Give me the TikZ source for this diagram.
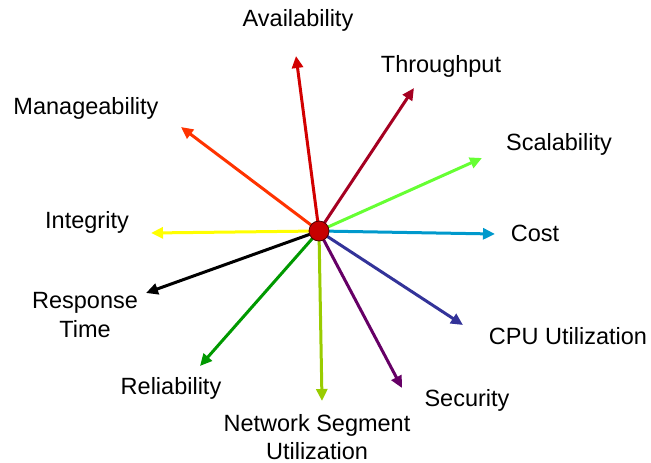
\documentclass[tikz,border=0pt]{standalone}
\usepackage{fontspec}
\setmainfont{Liberation Sans}
\usetikzlibrary{arrows.meta,positioning}
\definecolor{myred}{RGB}{210,0,0}
\definecolor{mycrimson}{RGB}{165,0,33}
\definecolor{mylime}{RGB}{102,255,51}
\definecolor{mycyan}{RGB}{0,153,204}
\definecolor{mynavy}{RGB}{51,51,153}
\definecolor{mypurple}{RGB}{102,0,102}
\definecolor{myolive}{RGB}{153,204,0}
\definecolor{mygreen}{RGB}{0,153,0}
\definecolor{myyellow}{RGB}{255,255,0}
\definecolor{myorange}{RGB}{255,51,0}

\begin{document}
\begin{tikzpicture}[x=1pt,y=-1pt,
  spoke/.style={line width=3pt,-{Triangle[length=12pt,width=11pt]}},
  lbl/.style={font=\fontsize{23.5}{28.5}\selectfont,align=center,inner sep=0pt},
  hub/.style={circle,draw=black!70!red,line width=0.8pt,fill=myred!95!black,minimum size=20pt,inner sep=0pt}]

  \useasboundingbox (0,0) rectangle (651,463);

  \coordinate (c) at (319,231);

  % tips of the arrows
  \coordinate (avail) at (296,56);
  \coordinate (thru) at (414,88);
  \coordinate (scal) at (482,158);
  \coordinate (cost) at (495,234);
  \coordinate (cpu) at (463,325);
  \coordinate (sec) at (402,388);
  \coordinate (net) at (322,401);
  \coordinate (rel) at (200,366);
  \coordinate (resp) at (146,293);
  \coordinate (integ) at (151,233);
  \coordinate (manage) at (181,127);

  \draw[spoke,myred] (c) -- (avail);
  \draw[spoke,mycrimson] (c) -- (thru);
  \draw[spoke,mylime] (c) -- (scal);
  \draw[spoke,mycyan] (c) -- (cost);
  \draw[spoke,mynavy] (c) -- (cpu);
  \draw[spoke,mypurple] (c) -- (sec);
  \draw[spoke,myolive] (c) -- (net);
  \draw[spoke,mygreen] (c) -- (rel);
  \draw[spoke,black] (c) -- (resp);
  \draw[spoke,myyellow] (c) -- (integ);
  \draw[spoke,myorange] (c) -- (manage);

  \node[hub] (center) at (c) {};

  % labels
  \node[lbl] (availtxt) at (298,20) {Availability};
  \node[lbl] (thrutxt) at (441,66) {Throughput};
  \node[lbl] (scaltxt) at (559,144) {Scalability};
  \node[lbl] (costtxt) at (535,233) {Cost};
  \node[lbl] (cputxt) at (568,336) {CPU Utilization};
  \node[lbl] (sectxt) at (467,400) {Security};
  \node[lbl] (nettxt) at (317,437) {Network Segment\\Utilization};
  \node[lbl] (reltxt) at (171,388) {Reliability};
  \node[lbl] (resptxt) at (85,315) {Response\\Time};
  \node[lbl] (integtxt) at (87,222) {Integrity};
  \node[lbl] (managetxt) at (86,108) {Manageability};

\end{tikzpicture}
\end{document}
